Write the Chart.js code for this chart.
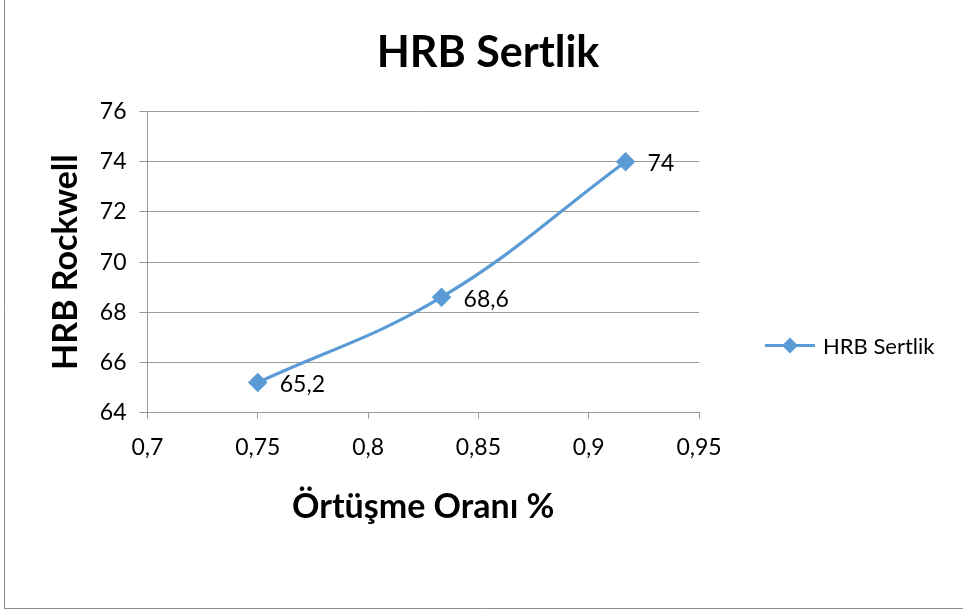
<!DOCTYPE html>
<html>
<head>
<meta charset="utf-8">
<script src="https://cdn.jsdelivr.net/npm/chart.js@4.4.1/dist/chart.umd.min.js"></script>
<style>
  body { margin: 0; background: #fff; }
  #wrap { width: 963px; height: 615px; position: relative; }
</style>
</head>
<body>
<div id="wrap"><canvas id="hrbChart" width="963" height="615"></canvas></div>
<script>
// Veriler
const ortusmeOrani = [0.75, 0.8333, 0.9167];
const hrbDegerleri = [65.2, 68.6, 74];
const xTickDegerleri = [0.7, 0.75, 0.8, 0.85, 0.9, 0.95];
const yTickDegerleri = [64, 66, 68, 70, 72, 74, 76];
const seriAdi = 'HRB Sertlik';

const mavi = '#5B9BD5';
const fontAdi = 'Lato, "Open Sans", sans-serif';

function virgullu(v) {
  return String(parseFloat(v.toFixed(4))).replace('.', ',');
}

// cerceve
const cercevePlugin = {
  id: 'cerceve',
  beforeDraw(chart) {
    const ctx = chart.ctx;
    ctx.save();
    ctx.fillStyle = '#fff';
    ctx.fillRect(0, 0, chart.width, chart.height);
    ctx.strokeStyle = '#8c8c8c';
    ctx.lineWidth = 1;
    ctx.beginPath();
    ctx.moveTo(4.5, 0);
    ctx.lineTo(4.5, 608.5);
    ctx.lineTo(chart.width, 608.5);
    ctx.stroke();
    ctx.restore();
  }
};

// veri etiketleri + sag taraftaki lejant
const etiketPlugin = {
  id: 'etiketler',
  afterDatasetsDraw(chart) {
    const ctx = chart.ctx;
    const meta = chart.getDatasetMeta(0);
    ctx.save();
    ctx.font = '23px ' + fontAdi;
    ctx.fillStyle = '#000';
    ctx.textBaseline = 'middle';
    meta.data.forEach(function (p, i) {
      ctx.fillText(virgullu(hrbDegerleri[i]), p.x + 22, p.y + 2);
    });

    // lejant
    const a = chart.chartArea;
    const lx = a.right + 66;
    const ly = a.top + 234;
    ctx.strokeStyle = mavi;
    ctx.lineWidth = 3;
    ctx.beginPath();
    ctx.moveTo(lx, ly);
    ctx.lineTo(lx + 50, ly);
    ctx.stroke();
    ctx.fillStyle = mavi;
    ctx.beginPath();
    ctx.moveTo(lx + 25, ly - 8);
    ctx.lineTo(lx + 33, ly);
    ctx.lineTo(lx + 25, ly + 8);
    ctx.lineTo(lx + 17, ly);
    ctx.closePath();
    ctx.fill();
    ctx.fillStyle = '#000';
    ctx.font = '22px ' + fontAdi;
    ctx.fillText(seriAdi, lx + 58, ly + 1);
    ctx.restore();
  }
};

const ctx = document.getElementById('hrbChart').getContext('2d');
const hrbChart = new Chart(ctx, {
  type: 'line',
  data: {
    datasets: [{
      label: seriAdi,
      data: ortusmeOrani.map((x, i) => ({ x: x, y: hrbDegerleri[i] })),
      borderColor: mavi,
      backgroundColor: mavi,
      borderWidth: 3.2,
      pointStyle: 'rectRot',
      pointRadius: 7.5,
      pointHoverRadius: 7.5,
      tension: 0.4
    }]
  },
  options: {
    responsive: false,
    animation: false,
    events: [],
    layout: { padding: { left: 46, right: 33, top: 0, bottom: 88 } },
    scales: {
      x: {
        type: 'linear',
        min: 0.7,
        max: 0.95,
        afterBuildTicks: (s) => { s.ticks = xTickDegerleri.map(v => ({ value: v })); },
        ticks: {
          callback: (v) => virgullu(v),
          color: '#000',
          font: { family: fontAdi, size: 23 },
          padding: 15,
          maxRotation: 0
        },
        grid: { drawOnChartArea: false, drawTicks: true, tickLength: 6, color: '#999' },
        border: { color: '#999', width: 1 },
        title: {
          display: true,
          text: 'Örtüşme Oranı %',
          color: '#000',
          font: { family: fontAdi, size: 34, weight: 'bold' },
          padding: { top: 10, bottom: 0 }
        }
      },
      y: {
        min: 64,
        max: 76,
        afterBuildTicks: (s) => { s.ticks = yTickDegerleri.map(v => ({ value: v })); },
        ticks: {
          color: '#000',
          font: { family: fontAdi, size: 23 },
          padding: 13
        },
        grid: { color: '#999', tickLength: 8 },
        border: { color: '#999', width: 1 },
        title: {
          display: true,
          text: 'HRB Rockwell',
          color: '#000',
          font: { family: fontAdi, size: 34, weight: 'bold' },
          padding: { top: 0, bottom: 0 }
        }
      },
      // lejant icin sagda bos alan
      bosluk: {
        type: 'linear',
        position: 'right',
        ticks: { display: false },
        grid: { display: false },
        border: { display: false },
        afterFit: (s) => { s.width = 231; }
      }
    },
    plugins: {
      title: {
        display: true,
        text: 'HRB Sertlik',
        color: '#000',
        font: { family: fontAdi, size: 43, weight: 'bold' },
        padding: { top: 27, bottom: 33 }
      },
      legend: { display: false },
      tooltip: { enabled: false }
    }
  },
  plugins: [cercevePlugin, etiketPlugin]
});
</script>
</body>
</html>
